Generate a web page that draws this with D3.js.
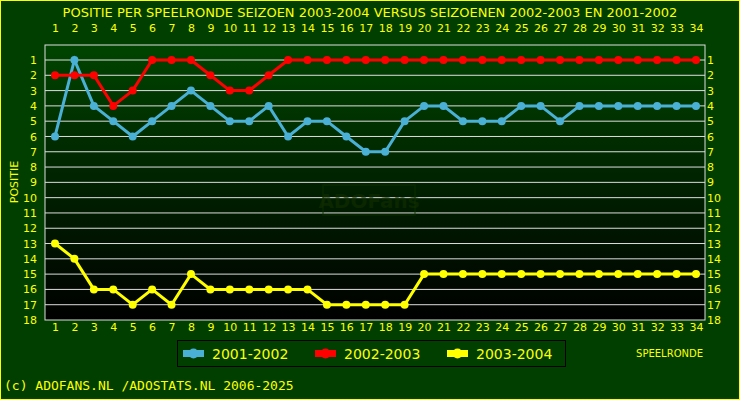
<!DOCTYPE html>
<html><head><meta charset="utf-8">
<script src="https://cdn.jsdelivr.net/npm/d3@7"></script>
<style>body{margin:0;background:#003f00}</style></head>
<body><svg id="c" width="740" height="400"></svg>
<script>
const rounds = d3.range(1, 35);
const positions = d3.range(1, 19);
const seriesNames = ["2001-2002", "2002-2003", "2003-2004"];
const s2001 = [6,1,4,5,6,5,4,3,4,5,5,4,6,5,5,6,7,7,5,4,4,5,5,5,4,4,5,4,4,4,4,4,4,4];
const s2002 = [2,2,2,4,3,1,1,1,2,3,3,2,1,1,1,1,1,1,1,1,1,1,1,1,1,1,1,1,1,1,1,1,1,1];
const s2003 = [13,14,16,16,17,16,17,15,16,16,16,16,16,16,17,17,17,17,17,15,15,15,15,15,15,15,15,15,15,15,15,15,15,15];
const colors = ["#4bb0d6", "#ff0000", "#ffff00"];
const data = [s2001, s2002, s2003];

const svg = d3.select("#c");
const Y = "#ffff00";
svg.append("rect").attr("x",0.5).attr("y",0.5).attr("width",739).attr("height",399).attr("fill","#003f00").attr("stroke",Y);
const L=45,R=705,T=45,B=320;
const defs=svg.append("defs");
const g=defs.append("linearGradient").attr("id","bg").attr("x1",0).attr("y1",0).attr("x2",0).attr("y2",1);
g.append("stop").attr("offset","0").attr("stop-color","#004400");
g.append("stop").attr("offset","1").attr("stop-color","#000000");
svg.append("rect").attr("x",L).attr("y",T).attr("width",R-L).attr("height",B-T).attr("fill","url(#bg)").attr("stroke","#ddd");

const x=d3.scalePoint().domain(rounds).range([55,696]);
const y=d3.scaleLinear().domain([1,18]).range([60,320]);

svg.append("g").selectAll("line").data(positions.slice(0,17)).join("line")
 .attr("x1",L).attr("x2",R).attr("y1",d=>y(d)).attr("y2",d=>y(d)).attr("stroke","#ddd").attr("stroke-width",1);

// watermark
svg.append("rect").attr("x",323).attr("y",185).attr("width",92).attr("height",30).attr("fill","none").attr("stroke","#0f2f00").attr("stroke-width",1.5).attr("opacity",0.6);
svg.append("text").attr("x",369).attr("y",208).attr("text-anchor","middle").attr("font-family","DejaVu Sans").attr("font-weight","bold").attr("font-size",20).attr("fill","#122f00").attr("opacity",0.6).text("ADOFans");

const font="DejaVu Sans";
function axis(gen,tr){const a=svg.append("g").attr("transform",tr).call(gen);
 a.select(".domain").remove();a.selectAll("line").remove();
 a.selectAll("text").attr("fill",Y).attr("font-family",font).attr("font-size",11);}
axis(d3.axisTop(x).tickSize(0).tickPadding(6),"translate(0,38)");
axis(d3.axisBottom(x).tickSize(0).tickPadding(0),"translate(0,323)");
axis(d3.axisLeft(y).tickValues(positions).tickSize(0).tickPadding(4),"translate(41,0)");
axis(d3.axisRight(y).tickValues(positions).tickSize(0).tickPadding(4),"translate(703,0)");

const line=d3.line().x((d,i)=>x(rounds[i])).y(d=>y(d));
data.forEach((s,k)=>{
 svg.append("path").attr("d",line(s)).attr("fill","none").attr("stroke",colors[k]).attr("stroke-width",3);
 svg.append("g").selectAll("circle").data(s).join("circle").attr("cx",(d,i)=>x(rounds[i])).attr("cy",d=>y(d)).attr("r",4).attr("fill",colors[k]);
});

svg.append("text").attr("x",370).attr("y",17).attr("text-anchor","middle").attr("fill",Y).attr("font-family",font).attr("font-size",13)
 .text("POSITIE PER SPEELRONDE SEIZOEN 2003-2004 VERSUS SEIZOENEN 2002-2003 EN 2001-2002");
svg.append("text").attr("transform","translate(18,182) rotate(-90)").attr("text-anchor","middle").attr("fill",Y).attr("font-family",font).attr("font-size",11).text("POSITIE");
svg.append("text").attr("x",703).attr("y",357).attr("text-anchor","end").attr("fill",Y).attr("font-family",font).attr("font-size",10).text("SPEELRONDE");

const lg=svg.append("g");
lg.append("rect").attr("x",177.5).attr("y",340.5).attr("width",388).attr("height",26).attr("fill","#003f00").attr("stroke","#000");
seriesNames.forEach((n,k)=>{
 const lx=183+k*132;
 lg.append("rect").attr("x",lx).attr("y",350).attr("width",21).attr("height",7).attr("fill",colors[k]);
 lg.append("circle").attr("cx",lx+10.5).attr("cy",353.5).attr("r",5).attr("fill",colors[k]);
 lg.append("text").attr("x",lx+29).attr("y",359).attr("fill",Y).attr("font-family",font).attr("font-size",14).text(n);
});
svg.append("text").attr("x",4).attr("y",390).attr("fill",Y).attr("font-family","DejaVu Sans Mono").attr("font-size",13).text("(c) ADOFANS.NL /ADOSTATS.NL 2006-2025");
</script></body></html>
